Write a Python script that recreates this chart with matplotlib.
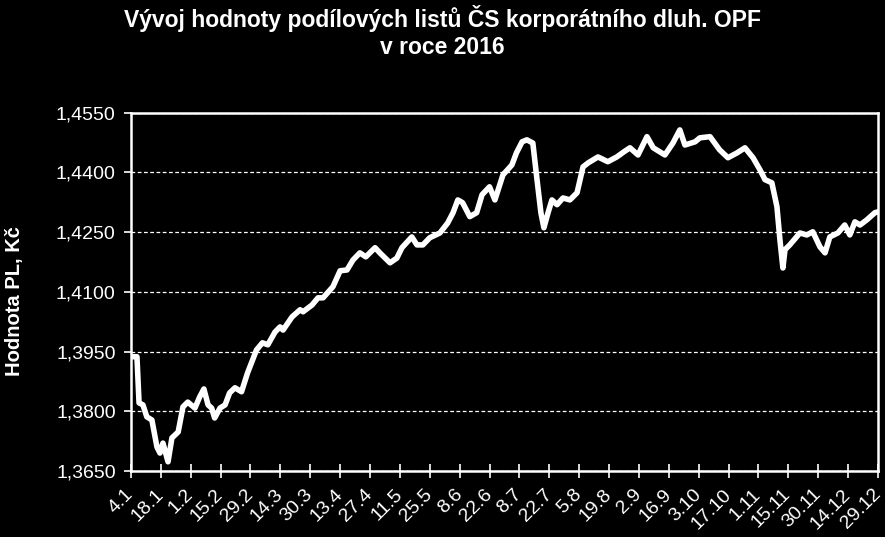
import matplotlib.pyplot as plt
import matplotlib.transforms as mtransforms
import numpy as np

plt.rcParams['font.family'] = ['Liberation Sans', 'DejaVu Sans']

# popisky osy x (kazdy 10. obchodni den)
tick_labels = ['4.1', '18.1', '1.2', '15.2', '29.2', '14.3', '30.3', '13.4', '27.4', '11.5',
               '25.5', '8.6', '22.6', '8.7', '22.7', '5.8', '19.8', '2.9', '16.9', '3.10',
               '17.10', '1.11', '15.11', '30.11', '14.12', '29.12']

# poradi obchodniho dne a hodnota PL
day = [0, 2, 2.7, 4, 5.3, 7, 8.7, 9.7, 10.7, 12.4, 13.7, 15.8, 17.4, 19, 21.4, 23, 24.4, 25.8,
       27, 28, 29.8, 31.5, 33, 34.8, 37, 39, 42, 44, 45.8, 48.2, 49.9, 50.9, 53.9, 56.6, 57.6,
       60.6, 62.6, 64.3, 67.6, 70, 72.3, 74.3, 76.6, 78.6, 81.7, 83.3, 86.7, 89, 90.7, 94,
       95.7, 97.7, 100, 103.4, 106, 107.8, 109.4, 111, 113.4, 115.7, 117.5, 120, 121.8, 124.5,
       127.5, 129, 130.9, 132.5, 134.5, 135.9, 137.2, 138.2, 139.6, 140.9, 142.6, 144.6, 146.9,
       149.3, 151.3, 153, 156.3, 159.6, 162.6, 165, 167, 169.7, 172.7, 174.8, 178.7, 181.4,
       183.7, 185.4, 188.8, 190.4, 193.8, 197, 199.8, 202.8, 205.5, 208.2, 210.5, 212.2, 214.5,
       216.2, 217.2, 218.2, 218.9, 220.5, 223.9, 226.2, 228.2, 230.6, 232.3, 233.9, 236.6,
       238.9, 240.6, 242.3, 244, 246.3, 249, 250]
value = [1.3937, 1.3937, 1.3821, 1.3816, 1.3786, 1.3778, 1.3710, 1.3695, 1.3720, 1.3673,
         1.3733, 1.3748, 1.3811, 1.3823, 1.3808, 1.3836, 1.3856, 1.3816, 1.3808, 1.3783,
         1.3808, 1.3816, 1.3846, 1.3859, 1.3849, 1.3896, 1.3954, 1.3972, 1.3967, 1.3999,
         1.4012, 1.4004, 1.4037, 1.4055, 1.4050, 1.4067, 1.4085, 1.4085, 1.4113, 1.4153,
         1.4155, 1.4180, 1.4198, 1.4188, 1.4211, 1.4198, 1.4173, 1.4185, 1.4211, 1.4238,
         1.4218, 1.4218, 1.4236, 1.4248, 1.4273, 1.4299, 1.4331, 1.4324, 1.4289, 1.4299,
         1.4344, 1.4364, 1.4331, 1.4394, 1.4419, 1.4449, 1.4477, 1.4482, 1.4474, 1.4382,
         1.4299, 1.4261, 1.4299, 1.4331, 1.4319, 1.4336, 1.4331, 1.4349, 1.4414, 1.4424,
         1.4439, 1.4427, 1.4439, 1.4452, 1.4462, 1.4444, 1.4490, 1.4462, 1.4444, 1.4474,
         1.4507, 1.4469, 1.4477, 1.4487, 1.4490, 1.4457, 1.4437, 1.4449, 1.4462, 1.4437,
         1.4407, 1.4382, 1.4374, 1.4314, 1.4231, 1.4160, 1.4206, 1.4218, 1.4248, 1.4243,
         1.4251, 1.4213, 1.4198, 1.4238, 1.4248, 1.4268, 1.4243, 1.4276, 1.4268, 1.4281,
         1.4299, 1.4301]

y_ticks = [1.3650, 1.3800, 1.3950, 1.4100, 1.4250, 1.4400, 1.4550]

fig = plt.figure(figsize=(8.85, 5.37), dpi=100, facecolor='black')
ax = fig.add_axes([0.148, 0.123, 0.844, 0.667])
ax.set_facecolor('black')

ax.plot(day, value, color='white', lw=4, solid_joinstyle='round', solid_capstyle='round',
        zorder=3)

ax.set_xlim(0, 250)
ax.set_ylim(y_ticks[0], y_ticks[-1])
ax.set_yticks(y_ticks)
ax.set_yticklabels([f'{v:.4f}'.replace('.', ',') for v in y_ticks])
ax.set_xticks(np.arange(len(tick_labels)) * 10)
ax.set_xticklabels(tick_labels, rotation=45, ha='right', va='center', rotation_mode='anchor')
# posun popisku trochu doprava
shift = mtransforms.ScaledTranslation(1 / 100, 0, fig.dpi_scale_trans)
for lab in ax.get_xticklabels():
    lab.set_transform(lab.get_transform() + shift)

ax.grid(axis='y', color='white', ls=(0, (3, 2)), lw=0.9)
for s in ax.spines.values():
    s.set_color('white')
    s.set_linewidth(1.8)

ax.tick_params(axis='y', colors='white', labelsize=14, length=5, width=1.2, pad=6)
ax.tick_params(axis='x', colors='white', labelsize=14, length=10, width=1.2,
               direction='inout', pad=10)

ax.set_ylabel('Hodnota PL, Kč', color='white', fontsize=14.5, fontweight='bold')
ax.yaxis.set_label_coords((24 - 131) / 747, 0.475)
fig.text(0.5, 0.99, 'Vývoj hodnoty podílových listů ČS korporátního dluh. OPF\nv roce 2016',
         ha='center', va='top', color='white', fontsize=16.5, fontweight='bold', linespacing=1.2)

fig.savefig('out.png', dpi=100, facecolor='black')
